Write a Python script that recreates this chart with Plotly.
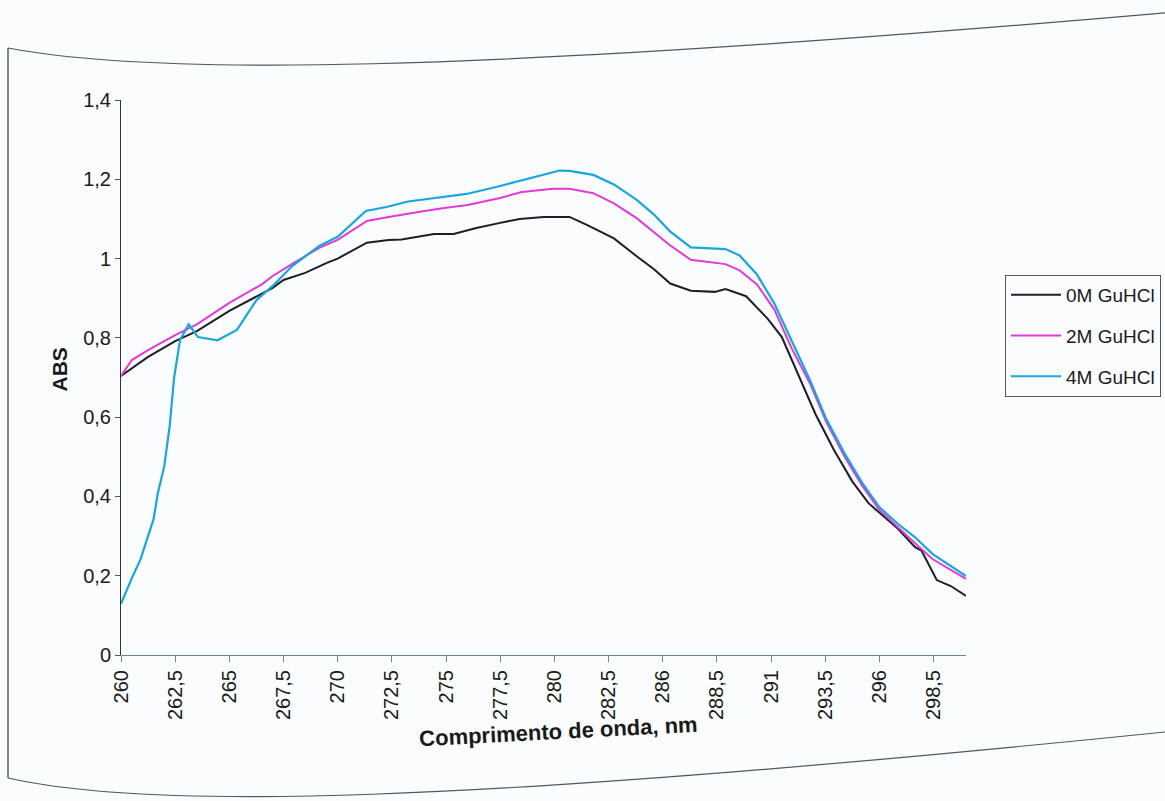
import plotly.graph_objects as go

# Category axis: wavelength labels shown every 5 points (index positions)
tick_idx = [0, 5, 10, 15, 20, 25, 30, 35, 40, 45, 50, 55, 60, 65, 70, 75]
tick_labels = ["260", "262,5", "265", "267,5", "270", "272,5", "275", "277,5",
               "280", "282,5", "286", "288,5", "291", "293,5", "296", "298,5"]

y_ticks = [0, 0.2, 0.4, 0.6, 0.8, 1.0, 1.2, 1.4]
y_labels = ["0", "0,2", "0,4", "0,6", "0,8", "1", "1,2", "1,4"]

# 0M GuHCl
x_0m = [0, 2.5, 5, 7, 10, 13, 14, 15, 17, 19, 20, 22.7, 24.7, 25.9, 27.7, 28.9, 30.7,
        32.8, 35, 36.8, 39, 41.4, 43, 43.6, 45.5, 47.6, 49.2, 50.7, 52.6, 54.8, 55.8,
        57.7, 59.7, 61, 62.6, 64.1, 65.8, 67.5, 69, 71.7, 73.3, 73.9, 75.3, 76.6, 78]
y_0m = [0.704, 0.752, 0.792, 0.817, 0.868, 0.913, 0.926, 0.946, 0.964, 0.989, 1.0, 1.04,
        1.047, 1.048, 1.056, 1.062, 1.062, 1.077, 1.09, 1.10, 1.105, 1.105, 1.085, 1.077,
        1.051, 1.006, 0.973, 0.937, 0.919, 0.916, 0.923, 0.905, 0.848, 0.802, 0.704,
        0.608, 0.518, 0.438, 0.383, 0.319, 0.272, 0.263, 0.189, 0.174, 0.149]

# 2M GuHCl
x_2m = [0, 1, 2.5, 5, 7, 10, 13, 14, 16, 18.3, 20, 22.7, 24.7, 26.5, 28, 30, 32, 35, 37,
        39.9, 41.4, 43.6, 45.5, 47.6, 49.2, 50.7, 52.6, 55.8, 57.1, 58.7, 60.3, 61.9,
        63.6, 65.1, 66.8, 68.4, 70, 71.7, 73.3, 74.9, 78]
y_2m = [0.704, 0.744, 0.769, 0.807, 0.834, 0.888, 0.935, 0.956, 0.99, 1.027, 1.047, 1.095,
        1.105, 1.114, 1.12, 1.128, 1.135, 1.153, 1.168, 1.176, 1.176, 1.165, 1.139, 1.102,
        1.066, 1.033, 0.997, 0.986, 0.970, 0.935, 0.872, 0.774, 0.685, 0.588, 0.500,
        0.428, 0.366, 0.324, 0.282, 0.242, 0.192]

# 4M GuHCl
x_4m = [0, 1, 1.8, 2.4, 3, 3.4, 4, 4.5, 4.9, 5.45, 6.25, 7.1, 8.9, 10.7, 12.5, 14, 15.8,
        18.3, 20, 22.6, 24.5, 26.5, 28.9, 31.9, 35, 38, 40.5, 41.4, 43.6, 45.5, 47.6,
        49.2, 50.7, 52.6, 55.8, 57.1, 58.7, 60.3, 61.9, 63.6, 65.1, 66.8, 68.4, 70, 71.7,
        73.3, 74.9, 78]
y_4m = [0.129, 0.194, 0.241, 0.29, 0.342, 0.408, 0.477, 0.579, 0.699, 0.795, 0.834, 0.802,
        0.794, 0.82, 0.895, 0.931, 0.981, 1.032, 1.055, 1.12, 1.13, 1.144, 1.153, 1.163,
        1.183, 1.205, 1.222, 1.221, 1.211, 1.187, 1.148, 1.111, 1.068, 1.028, 1.024,
        1.008, 0.960, 0.887, 0.791, 0.693, 0.595, 0.508, 0.435, 0.373, 0.331, 0.297,
        0.255, 0.199]

FONT = "Liberation Sans, Arial, sans-serif"

fig = go.Figure()
fig.add_trace(go.Scatter(x=x_0m, y=y_0m, mode="lines", name="0M GuHCl",
                         line=dict(color="#1e1e26", width=2), legendgroup="a"))
fig.add_trace(go.Scatter(x=x_2m, y=y_2m, mode="lines", name="2M GuHCl",
                         line=dict(color="#e03ad8", width=2), legendgroup="b"))
fig.add_trace(go.Scatter(x=x_4m, y=y_4m, mode="lines", name="4M GuHCl",
                         line=dict(color="#18a6dc", width=2.2), legendgroup="c"))

# plot area in pixels: x 121..966, y 100..655
L, R, T, B = 121, 966, 100, 655
W, H = 1165, 801


def px(xp):
    return (xp - L) / (R - L)


def py(yp):
    return (B - yp) / (B - T)


def path_c(p0, p1, p2, p3):
    return "M{},{} C{},{} {},{} {},{}".format(px(p0[0]), py(p0[1]), px(p1[0]), py(p1[1]),
                                              px(p2[0]), py(p2[1]), px(p3[0]), py(p3[1]))


border_col = "#4a5a60"
shapes = [
    dict(type="path", xref="paper", yref="paper",
         path=path_c((8, 48), (150, 75), (450, 75), (1175, 12)),
         line=dict(color=border_col, width=1.2)),
    dict(type="path", xref="paper", yref="paper",
         path=path_c((8, 778), (150, 810), (450, 805), (1175, 731)),
         line=dict(color=border_col, width=1.2)),
    dict(type="line", xref="paper", yref="paper", x0=px(8), x1=px(8), y0=py(48), y1=py(778),
         line=dict(color="#333333", width=1.2)),
]

fig.update_layout(
    width=W, height=H,
    margin=dict(l=L, r=W - R, t=T, b=H - B, autoexpand=False),
    paper_bgcolor="#fbfcfd", plot_bgcolor="#fbfcfd",
    font=dict(family=FONT, size=20, color="#1a1a1a"),
    showlegend=True,
    legend=dict(x=px(1005), y=py(275), xanchor="left", yanchor="top",
                bordercolor="#555555", borderwidth=1, bgcolor="rgba(0,0,0,0)",
                font=dict(family=FONT, size=19, color="#1a1a1a"),
                tracegroupgap=13, traceorder="grouped", itemwidth=50),
    xaxis=dict(range=[0, 78], tickmode="array", tickvals=tick_idx, ticktext=tick_labels,
               tickangle=-90, showgrid=False, zeroline=False, showline=True,
               linecolor="#6b8a8f", linewidth=1, ticks="outside", ticklen=6,
               tickcolor="#6b8a8f", tickfont=dict(family=FONT, size=20, color="#1a1a1a")),
    yaxis=dict(range=[0, 1.4], tickmode="array", tickvals=y_ticks, ticktext=y_labels,
               showgrid=False, zeroline=False, showline=True, linecolor="#333333",
               linewidth=1, ticks="outside", ticklen=5, tickcolor="#555555",
               tickfont=dict(family=FONT, size=20, color="#1a1a1a")),
    shapes=shapes,
    annotations=[
        dict(text="<b>ABS</b>", xref="paper", yref="paper", x=px(45), y=py(370),
             showarrow=False, textangle=-90, font=dict(family=FONT, size=21, color="#1a1a1a")),
        dict(text="<b>Comprimento de onda, nm</b>", xref="paper", yref="paper",
             x=px(558), y=py(753), showarrow=False, textangle=-3,
             font=dict(family=FONT, size=22, color="#1a1a1a")),
    ],
)

fig.write_html("out.html")
